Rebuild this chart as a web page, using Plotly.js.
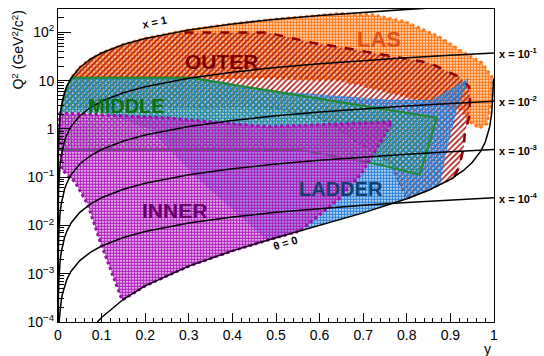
<!DOCTYPE html>
<html><head><meta charset="utf-8">
<script src="https://cdn.plot.ly/plotly-3.0.1.min.js"></script>
<style>html,body{margin:0;padding:0;background:#fff}#chart{width:544px;height:356px}</style>
</head><body><div id="chart"></div>
<script>
// ---- data ----
const yGrid = [0.00001,0.00003,0.0001,0.0003,0.001,0.002,0.003,0.005,0.0075,0.01,0.015,0.02,0.03,0.05,0.075,0.1,0.15,0.2,0.3,0.4,0.5,0.6,0.7,0.8,0.9,1.0];
const q2_x1    = [0.00375,0.01125,0.0375,0.1125,0.375,0.75,1.125,1.875,2.8125,3.75,5.625,7.5,11.25,18.75,28.125,37.5,56.25,75,112.5,150,187.5,225,262.5,300,337.5,375];
const q2_x1e1  = [0.000375,0.001125,0.00375,0.01125,0.0375,0.075,0.1125,0.1875,0.28125,0.375,0.5625,0.75,1.125,1.875,2.8125,3.75,5.625,7.5,11.25,15,18.75,22.5,26.25,30,33.75,37.5];
const q2_x1e2  = [0.0000375,0.0001125,0.000375,0.001125,0.00375,0.0075,0.01125,0.01875,0.028125,0.0375,0.05625,0.075,0.1125,0.1875,0.28125,0.375,0.5625,0.75,1.125,1.5,1.875,2.25,2.625,3.0,3.375,3.75];
const q2_x1e3  = [0.00000375,0.00001125,0.0000375,0.0001125,0.000375,0.00075,0.001125,0.001875,0.0028125,0.00375,0.005625,0.0075,0.01125,0.01875,0.028125,0.0375,0.05625,0.075,0.1125,0.15,0.1875,0.225,0.2625,0.3,0.3375,0.375];
const q2_x1e4  = [3.75e-7,1.125e-6,3.75e-6,1.125e-5,3.75e-5,7.5e-5,1.125e-4,1.875e-4,2.8125e-4,3.75e-4,5.625e-4,7.5e-4,1.125e-3,1.875e-3,2.8125e-3,3.75e-3,5.625e-3,7.5e-3,0.01125,0.015,0.01875,0.0225,0.02625,0.03,0.03375,0.0375];
const xLineNames = ["x = 1","x = 10<sup>-1</sup>","x = 10<sup>-2</sup>","x = 10<sup>-3</sup>","x = 10<sup>-4</sup>"];

const yTheta  = [0.09,0.1,0.15,0.2,0.3,0.4,0.5,0.6,0.7,0.8,0.85,0.9,0.93,0.95,0.97,0.98,0.99,0.995,0.998,0.999];
const q2Theta = [9.94e-5,1.241e-4,2.957e-4,5.585e-4,1.436e-3,2.979e-3,5.585e-3,0.01005,0.01824,0.03574,0.0538,0.0905,0.138,0.2016,0.3503,0.5364,1.0948,2.212,5.563,11.15];

const lasY  = [0.032,0.486,0.647,0.876,0.927,0.945,0.966,0.984,0.995,0.995,0.972,0.920,0.874,0.796,0.720,0.644,0.6,0.5,0.4,0.3,0.2,0.15,0.1,0.07,0.05,0.032];
const lasQ2 = [12,11.5,10.4,3.16,2.49,1.40,1.05,1.28,4.0,12.0,23.5,43.8,81.5,167,233,244,225,187.5,150,112.5,75,56.3,37.5,26.3,18.8,12];

const outerY  = [0.0076,0.01,0.02,0.05,0.1,0.2,0.29,0.479,0.583,0.644,0.851,0.920,0.943,0.945,0.943,0.933,0.931,0.920,0.908,0.85,0.80,0.761,0.601,0.486,0.016,0.0076];
const outerQ2 = [2.86,3.75,7.5,18.75,37.5,75,100,100,61,50,23.5,12.0,7.5,4.0,1.77,0.83,0.43,0.163,0.097,0.0538,0.0357,0.198,1.70,2.86,2.86,2.86];

const ladderY  = [0.031,0.326,0.491,0.761,0.858,0.943,0.915,0.892,0.876,0.85,0.8,0.75,0.7,0.65,0.6,0.55,0.5,0.48,0.40,0.319,0.21,0.1,0.0059,0.01,0.02,0.031];
const ladderQ2 = [11.5,11.5,6.17,4.02,4.02,11.5,2.49,0.368,0.0691,0.0538,0.0357,0.0258,0.0182,0.0135,0.01005,0.00757,0.00559,0.00495,0.0215,0.0957,1.0,2.2,2.2,3.75,7.5,11.5];

const middleY  = [0.031,0.303,0.869,0.830,0.739,0.555,0.280,0.001,0.002,0.005,0.01,0.02,0.031];
const middleQ2 = [11.5,11.5,1.70,0.112,0.18,0.368,0.368,0.368,0.75,1.875,3.75,7.5,11.5];

const innerY  = [0.002,0.25,0.479,0.766,0.743,0.720,0.697,0.647,0.555,0.5,0.4,0.3,0.2,0.147,0.0963,0.0688,0.039,0.0092,0.002];
const innerQ2 = [2.16,1.70,1.11,1.40,0.594,0.264,0.123,0.0371,0.0077,0.00559,0.00298,0.00144,0.000559,0.000285,0.00472,0.0266,0.080,0.142,2.16];

const xTickVals = [0,0.1,0.2,0.3,0.4,0.5,0.6,0.7,0.8,0.9,1];
const yTickVals = [1e-4,1e-3,1e-2,1e-1,1,10,100];
const yTickText = ["10<sup>−4</sup>","10<sup>−3</sup>","10<sup>−2</sup>","10<sup>−1</sup>","1","10","10<sup>2</sup>"];

// ---- traces ----
function region(xs, ys, color, shape, size, sol, lineColor, dash, lw){
  return {x: xs, y: ys, type:'scatter', mode:'lines', fill:'toself', hoverinfo:'skip',
    fillcolor: color,
    fillpattern: {shape: shape, fgcolor: color, size: size, solidity: sol},
    line: {color: lineColor, dash: dash, width: lw}, showlegend:false};
}
function edge(xs, ys, color, dash, lw){
  return {x: xs, y: ys, type:'scatter', mode:'lines', hoverinfo:'skip',
    line:{color:color, dash:dash, width:lw}, showlegend:false};
}
const traces = [
  region(lasY, lasQ2, '#ff7a1a', '.', 3, 0.7, '#ff7a1a', 'dot', 3),
  region(outerY, outerQ2, '#b01818', '/', 4, 0.4, 'rgba(0,0,0,0)', 'solid', 0),
  edge(outerY.slice(6,19), outerQ2.slice(6,19), '#8b0000', 'dash', 2.5),
  edge(outerY.slice(18), outerQ2.slice(18), '#8b0000', 'dot', 1.5),
  region(ladderY, ladderQ2, '#2a7fd6', '.', 3, 0.7, 'rgba(0,0,0,0)', 'solid', 0),
  region(middleY, middleQ2, '#1f9a3a', 'x', 4, 0.35, '#1f8a2a', 'solid', 2),
  region(innerY, innerQ2, '#b020c0', '.', 3, 0.72, '#9a10a8', 'dot', 3),
];
const xLines = [q2_x1, q2_x1e1, q2_x1e2, q2_x1e3, q2_x1e4];
xLines.forEach(q => traces.push({x: yGrid, y: q, type:'scatter', mode:'lines',
  line:{color:'black', width:1.5}, hoverinfo:'skip', showlegend:false}));
traces.push({x: yTheta, y: q2Theta, type:'scatter', mode:'lines',
  line:{color:'black', width:1.5}, hoverinfo:'skip', showlegend:false});

// ---- annotations ----
const F = 'Liberation Sans, Arial, Helvetica, sans-serif';
const ann = [];
function lab(x, ly, text, color, size, angle){
  ann.push({x:x, y:ly, xref:'x', yref:'y', text:'<b>'+text+'</b>', showarrow:false,
    font:{family:F, size:size, color:color}, textangle: angle||0});
}
lab(0.376, 1.39, 'OUTER', '#7a0000', 21);
lab(0.737, 1.85, 'LAS', '#e0501a', 22);
lab(0.157, 0.48, 'MIDDLE', '#0a700a', 20);
lab(0.267, -1.68, 'INNER', '#6a006a', 21);
lab(0.649, -1.25, 'LADDER', '#123f6e', 20);
lab(0.222, 2.22, 'x = 1', 'black', 11, -12);
lab(0.521, -2.36, 'θ = 0', 'black', 11, -17);
const rightLog = [1.574, 0.574, -0.426, -1.426];
rightLog.forEach((v,i) => ann.push({x:1, y:v, xref:'x', yref:'y', xanchor:'left', xshift:3,
  text:'<b>'+xLineNames[i+1]+'</b>', showarrow:false, font:{family:F, size:11, color:'black'}}));
ann.push({xref:'paper', yref:'paper', x:-0.094, y:1.0, xanchor:'center', yanchor:'top', textangle:-90,
  text:'Q<sup>2</sup> (GeV<sup>2</sup>/c<sup>2</sup>)', showarrow:false, font:{family:F, size:14, color:'black'}});
ann.push({xref:'paper', yref:'paper', x:0.986, y:-0.085, xanchor:'center', yanchor:'middle',
  text:'y', showarrow:false, font:{family:F, size:14, color:'black'}});

const layout = {
  width:544, height:356, margin:{l:58, r:50, t:9, b:34},
  paper_bgcolor:'#fff', plot_bgcolor:'#fff', showlegend:false,
  xaxis:{range:[0,1], tickvals:xTickVals, ticktext:xTickVals.map(String), ticks:'inside', ticklen:9,
    tickcolor:'black', showline:true, linecolor:'black', linewidth:1, mirror:true, showgrid:false, zeroline:false,
    tickfont:{family:F, size:14, color:'black'},
    minor:{ticks:'inside', ticklen:4, dtick:0.02, tickcolor:'black', showgrid:false}},
  yaxis:{type:'log', range:[-4.0, 2.485], tickvals:yTickVals, ticktext:yTickText, ticks:'inside', ticklen:13,
    tickcolor:'black', showline:true, linecolor:'black', linewidth:1, mirror:true, showgrid:false, zeroline:false,
    tickfont:{family:F, size:14, color:'black'},
    minor:{ticks:'inside', ticklen:6, dtick:'D1', tickcolor:'black', showgrid:false}},
  annotations: ann
};
Plotly.newPlot('chart', traces, layout, {staticPlot:true, displayModeBar:false});
</script></body></html>
